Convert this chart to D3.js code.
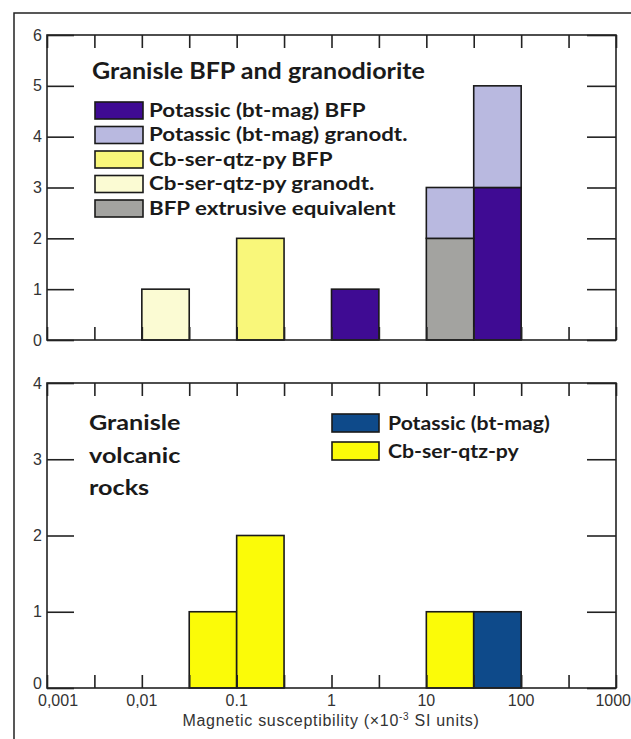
<!DOCTYPE html>
<html><head><meta charset="utf-8">
<script src="https://cdn.jsdelivr.net/npm/d3@7"></script>
<style>body{margin:0;background:#fff;} svg{display:block;}</style>
</head><body>
<svg id="c" width="631" height="739"></svg>
<script>
// ---- data ----
const binLow  = [0.01, 0.0316, 0.1, 1, 10, 31.6];
const binHigh = [0.0316, 0.1, 0.316, 3.16, 31.6, 100];
// top panel (stacked counts)
const topKeys = ["potBFP","cbBFP","cbGranodt","extrusive","potGranodt"];
const potBFP     = [0,0,0,1,0,3];
const cbBFP      = [0,0,2,0,0,0];
const cbGranodt  = [1,0,0,0,0,0];
const extrusive  = [0,0,0,0,2,0];
const potGranodt = [0,0,0,0,1,2];
// bottom panel
const botKeys = ["cbVolc","potVolc"];
const cbVolc  = [0,1,2,0,1,0];
const potVolc = [0,0,0,0,0,1];
const xTickVals   = [0.001,0.01,0.1,1,10,100,1000];
const xTickLabels = ["0,001","0,01","0.1","1","10","100","1000"];
const xMinorVals  = [0.00316,0.0316,0.316,3.16,31.6,316];
const topYTicks = [0,1,2,3,4,5,6];
const botYTicks = [0,1,2,3,4];
const topLegend = [
  {key:"potBFP", label:"Potassic (bt-mag) BFP"},
  {key:"potGranodt", label:"Potassic (bt-mag) granodt."},
  {key:"cbBFP", label:"Cb-ser-qtz-py BFP"},
  {key:"cbGranodt", label:"Cb-ser-qtz-py granodt."},
  {key:"extrusive", label:"BFP extrusive equivalent"}
];
const botLegend = [
  {key:"potVolc", label:"Potassic (bt-mag)"},
  {key:"cbVolc", label:"Cb-ser-qtz-py"}
];
const colors = {potBFP:"#3f0b93", potGranodt:"#b9b9e0", cbBFP:"#f9f77a", cbGranodt:"#fbfbd3",
  extrusive:"#a3a3a0", cbVolc:"#fbfb08", potVolc:"#0e4a8a"};

const svg = d3.select("#c");
const L = 47, R = 616;
const x = d3.scaleLog().domain([0.001,1000]).range([L,R]);
const sansFont = "Liberation Sans, Arial, sans-serif";
const boldFont = "Lato, 'Open Sans', sans-serif";

// outer frame
svg.append("path").attr("d","M14,739 V13 H631").attr("fill","none").attr("stroke","#222").attr("stroke-width",1.5);

function panel(top, bottom, yMax, yTicks, keys, series, showXLabels){
  const y = d3.scaleLinear().domain([0,yMax]).range([bottom, top]);
  const g = svg.append("g");
  const rows = binLow.map((lo,i)=>{const o={lo, hi:binHigh[i]}; keys.forEach(k=>o[k]=series[k][i]); return o;});
  const stacked = d3.stack().keys(keys)(rows);
  stacked.forEach(layer=>{
    g.selectAll(null).data(layer.filter(d=>d[1]>d[0])).enter().append("rect")
      .attr("x", d=>x(d.data.lo)).attr("width", d=>x(d.data.hi)-x(d.data.lo))
      .attr("y", d=>y(d[1])).attr("height", d=>y(d[0])-y(d[1]))
      .attr("fill", colors[layer.key]).attr("stroke","#1a1a1a").attr("stroke-width",1.6);
  });
  g.append("rect").attr("x",L).attr("y",top).attr("width",R-L).attr("height",bottom-top)
    .attr("fill","none").attr("stroke","#222").attr("stroke-width",1.6);
  const yl = d3.axisLeft(y).tickValues(yTicks).tickSize(-27).tickFormat(d=>d);
  const ya = g.append("g").attr("transform",`translate(${L},0)`).call(yl);
  ya.select(".domain").remove();
  ya.selectAll("line").attr("stroke","#222").attr("stroke-width",1.6);
  ya.selectAll("text").attr("font-family",sansFont).attr("font-size",16).attr("fill","#333")
    .attr("x",-5).attr("dy",d=>(showXLabels && d===0) ? "0.05em" : "0.32em");
  const yr = d3.axisRight(y).tickValues(yTicks).tickSize(-29).tickFormat("");
  const yb = g.append("g").attr("transform",`translate(${R},0)`).call(yr);
  yb.select(".domain").remove();
  yb.selectAll("line").attr("stroke","#222").attr("stroke-width",1.6);
  const allX = xTickVals.concat(xMinorVals);
  const xb = d3.axisBottom(x).tickValues(allX).tickSize(-13).tickFormat("");
  const xbg = g.append("g").attr("transform",`translate(0,${bottom})`).call(xb);
  xbg.select(".domain").remove();
  xbg.selectAll("line").attr("stroke","#222").attr("stroke-width",1.6);
  const xt = d3.axisTop(x).tickValues(allX).tickSize(-13).tickFormat("");
  const xtg = g.append("g").attr("transform",`translate(0,${top})`).call(xt);
  xtg.select(".domain").remove();
  xtg.selectAll("line").attr("stroke","#222").attr("stroke-width",1.6);
  if(showXLabels){
    const n = xTickVals.length;
    g.selectAll(null).data(xTickVals).enter().append("text")
      .attr("x",(d,i)=> i===0 ? x(d)-9 : (i===n-1 ? 631 : x(d)))
      .attr("y",bottom+18)
      .attr("text-anchor",(d,i)=> i===0 ? "start" : (i===n-1 ? "end" : "middle"))
      .attr("font-family",sansFont).attr("font-size",16).attr("fill","#333")
      .text((d,i)=>xTickLabels[i]);
  }
}

panel(35, 340, 6, topYTicks, topKeys, {potBFP, cbBFP, cbGranodt, extrusive, potGranodt}, false);
panel(383, 688, 4, botYTicks, botKeys, {cbVolc, potVolc}, true);

function stretchText(parent, tx, ty, s, size, txt){
  return parent.append("text").attr("transform",`translate(${tx},${ty}) scale(${s},1)`)
    .attr("font-family",boldFont).attr("font-weight","bold").attr("font-size",size)
    .attr("fill","#1a1a1a").text(txt);
}

// top title + legend
stretchText(svg, 92, 79, 1.14, 22, "Granisle BFP and granodiorite");
const tl = svg.append("g");
tl.selectAll("rect").data(topLegend).enter().append("rect")
  .attr("x",95).attr("y",(d,i)=>102+i*24.5).attr("width",48).attr("height",17)
  .attr("fill",d=>colors[d.key]).attr("stroke","#1a1a1a").attr("stroke-width",1.6);
topLegend.forEach((d,i)=>stretchText(tl, 149, 116.5+i*24.5, 1.24, 18, d.label));

// bottom title + legend
["Granisle","volcanic","rocks"].forEach((t,i)=>stretchText(svg, 89, 430+i*32.5, 1.2, 21, t));
const bl = svg.append("g");
bl.selectAll("rect").data(botLegend).enter().append("rect")
  .attr("x",332).attr("y",(d,i)=>414+i*28).attr("width",47).attr("height",18)
  .attr("fill",d=>colors[d.key]).attr("stroke","#1a1a1a").attr("stroke-width",1.6);
botLegend.forEach((d,i)=>stretchText(bl, 388, 429.5+i*28, 1.18, 18, d.label));

// x axis title
const at = svg.append("text").attr("x",331).attr("y",726).attr("text-anchor","middle")
  .attr("font-family",sansFont).attr("font-size",16).attr("letter-spacing",0.7).attr("fill","#333");
at.append("tspan").text("Magnetic susceptibility (×10");
at.append("tspan").attr("font-size",10).attr("dy",-6).text("-3");
at.append("tspan").attr("dy",6).text(" SI units)");
</script>
</body></html>
